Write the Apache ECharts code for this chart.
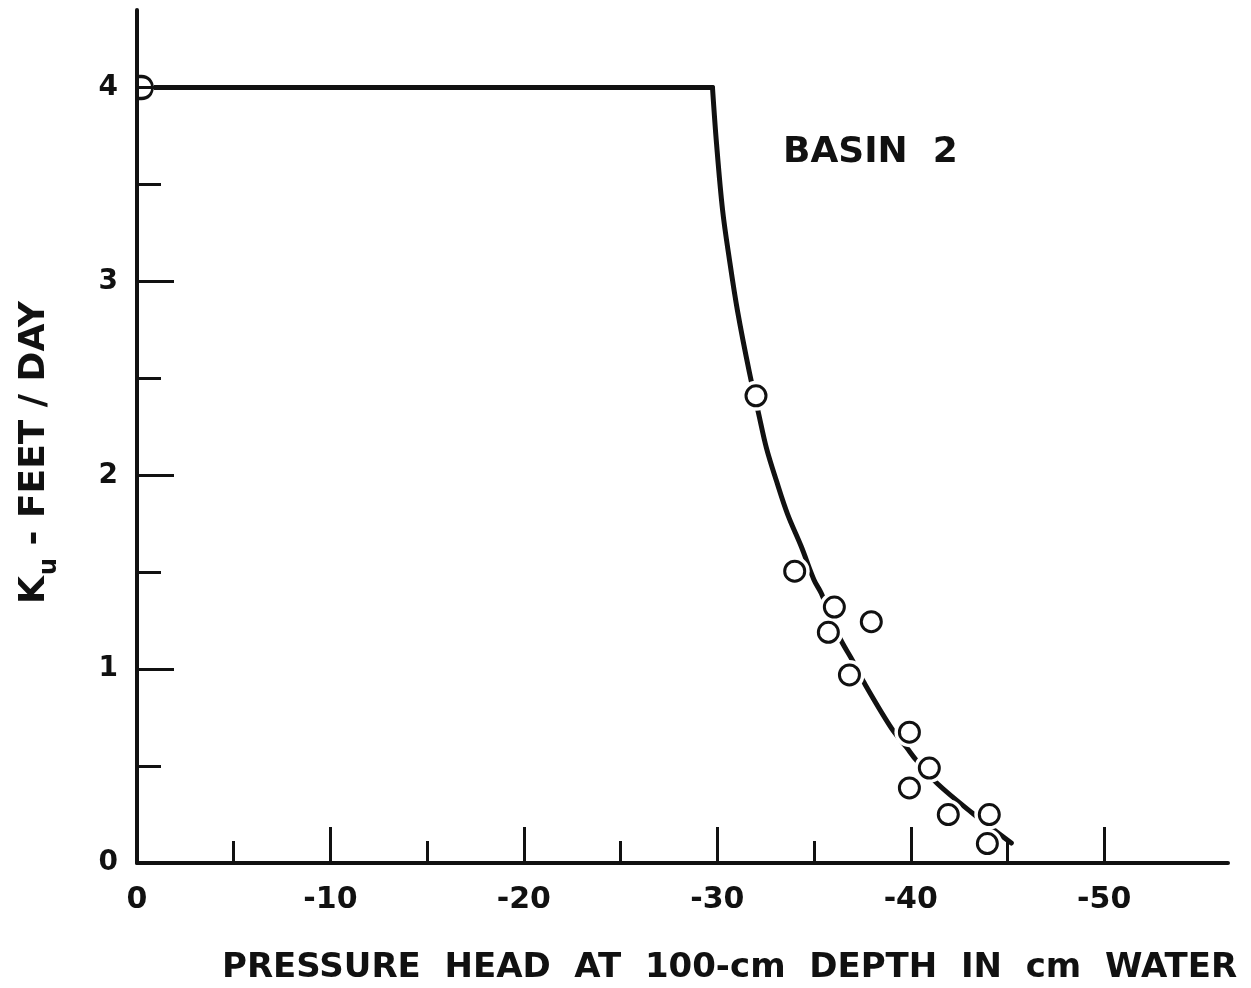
<!DOCTYPE html>
<html>
<head>
<meta charset="utf-8">
<script src="https://cdn.jsdelivr.net/npm/echarts@6/dist/echarts.min.js"></script>
<style>
  html, body { margin: 0; padding: 0; background: #fff; }
  #chart { width: 1251px; height: 988px; }
</style>
</head>
<body>
<div id="chart"></div>
<script>
// measured points (circles)
const obsX = [-32, -34, -36.05, -35.74, -37.96, -36.83, -39.93, -40.96, -39.93, -41.94, -44.06, -43.96];
const obsY = [2.41, 1.505, 1.32, 1.19, 1.245, 0.97, 0.675, 0.49, 0.387, 0.25, 0.25, 0.1];
// the point at the start of the curve (drawn as a "D" against the axis)
const startX = [0];
const startY = [4];
// fitted curve: flat part, then the falling limb
const flatX = [0, -29.75];
const flatY = [4, 4];
const fallX = [-29.75, -29.96, -30.27, -30.63, -31.04, -31.66, -32.13, -32.54, -33.06, -33.63, -34.35, -35.0, -35.38, -36.31, -36.98, -37.6, -39.0, -39.77, -40.29, -41.37, -43.18, -45.2];
const fallY = [4, 3.71, 3.37, 3.11, 2.85, 2.53, 2.32, 2.14, 1.97, 1.80, 1.63, 1.46, 1.39, 1.165, 1.046, 0.928, 0.696, 0.598, 0.53, 0.41, 0.258, 0.103];
// ticks
const xMajor = [0, -10, -20, -30, -40, -50];
const xMinor = [-5, -15, -25, -35, -45];
const yMajor = [0, 1, 2, 3, 4];
const yMinor = [0.5, 1.5, 2.5, 3.5];

const font = 'DejaVu Sans';
const ink = '#111';

const chart = echarts.init(document.getElementById('chart'));

const pairs = (xs, ys) => xs.map((x, i) => [x, ys[i]]);
const obs = pairs(obsX, obsY);
const startPt = pairs(startX, startY);

const xBase = {
  type: 'value',
  inverse: true,
  min: -56.4,
  max: 0,
  position: 'bottom',
  splitLine: { show: false },
  axisLine: { show: true, onZero: false, lineStyle: { color: ink, width: 4 } }
};
const yBase = {
  type: 'value',
  min: 0,
  max: 4.4,
  position: 'left',
  splitLine: { show: false },
  axisLine: { show: true, onZero: false, lineStyle: { color: ink, width: 4 } }
};

let option = {
  animation: false,
  backgroundColor: '#fff',
  grid: { left: 137, right: 23, top: 10, bottom: 125 },
  xAxis: [
    Object.assign({}, xBase, {
      z: 10,
      axisTick: { show: true, inside: true, length: 36, customValues: xMajor, lineStyle: { color: ink, width: 3 } },
      axisLabel: { customValues: xMajor, margin: 22, color: ink, fontFamily: font, fontWeight: 'bold', fontSize: 30 }
    }),
    Object.assign({}, xBase, {
      axisLine: { show: false },
      axisTick: { show: true, inside: true, length: 22, customValues: xMinor, lineStyle: { color: ink, width: 3 } },
      axisLabel: { show: false }
    })
  ],
  yAxis: [
    Object.assign({}, yBase, {
      z: 10,
      axisTick: { show: true, inside: true, length: 37, customValues: yMajor.slice(1), lineStyle: { color: ink, width: 3 } },
      axisLabel: { customValues: yMajor, margin: 19, color: ink, fontFamily: font, fontWeight: 'bold', fontSize: 28 }
    }),
    Object.assign({}, yBase, {
      axisLine: { show: false },
      axisTick: { show: true, inside: true, length: 24, customValues: yMinor, lineStyle: { color: ink, width: 3 } },
      axisLabel: { show: false }
    })
  ],
  graphic: [
    {
      type: 'text', left: 783, top: 135,
      style: { text: 'BASIN  2', font: 'bold 36px "DejaVu Sans"', fill: ink }
    },
    {
      type: 'text', left: 222, top: 951,
      style: { text: 'PRESSURE  HEAD  AT  100-cm  DEPTH  IN  cm  WATER', font: 'bold 34px "DejaVu Sans"', fill: ink }
    },
    {
      type: 'text', x: 8, y: 604, rotation: Math.PI / 2,
      style: {
        text: '{k|K}{u|u}{k| - FEET / DAY}',
        rich: {
          k: { font: 'bold 36px "DejaVu Sans"', fill: ink },
          u: { font: 'bold 24px "DejaVu Sans"', fill: ink, padding: [30, 0, 0, 1] }
        }
      }
    }
  ],
  series: [
    {
      name: 'flat',
      type: 'line',
      data: pairs(flatX, flatY),
      symbol: 'none',
      lineStyle: { color: ink, width: 5, cap: 'round', join: 'round' },
      z: 2
    },
    {
      name: 'fall',
      type: 'line',
      data: pairs(fallX, fallY),
      smooth: 0.35,
      symbol: 'none',
      lineStyle: { color: ink, width: 5, cap: 'round', join: 'round' },
      z: 2
    },
    {
      // white halo that breaks the curve around each circle
      name: 'halo',
      type: 'scatter',
      data: obs,
      symbolSize: 30,
      itemStyle: { color: '#fff', opacity: 1 },
      z: 3
    },
    {
      name: 'halo-start',
      type: 'scatter',
      data: startPt,
      symbolSize: 34,
      itemStyle: { color: '#fff', opacity: 1 },
      z: 3
    },
    {
      name: 'observed',
      type: 'scatter',
      data: obs,
      symbolSize: 20,
      itemStyle: { color: '#fff', borderColor: ink, borderWidth: 3, opacity: 1 },
      z: 4
    },
    {
      name: 'observed-start',
      type: 'scatter',
      data: startPt,
      symbol: 'path://M0,0 L4,0 C18.7,0 18.7,22 4,22 L0,22',
      symbolKeepAspect: false,
      symbolSize: [15, 22],
      symbolOffset: [8, 0],
      itemStyle: { color: '#fff', borderColor: ink, borderWidth: 3, opacity: 1 },
      z: 4
    }
  ]
};
chart.setOption(option);
</script>
</body>
</html>
